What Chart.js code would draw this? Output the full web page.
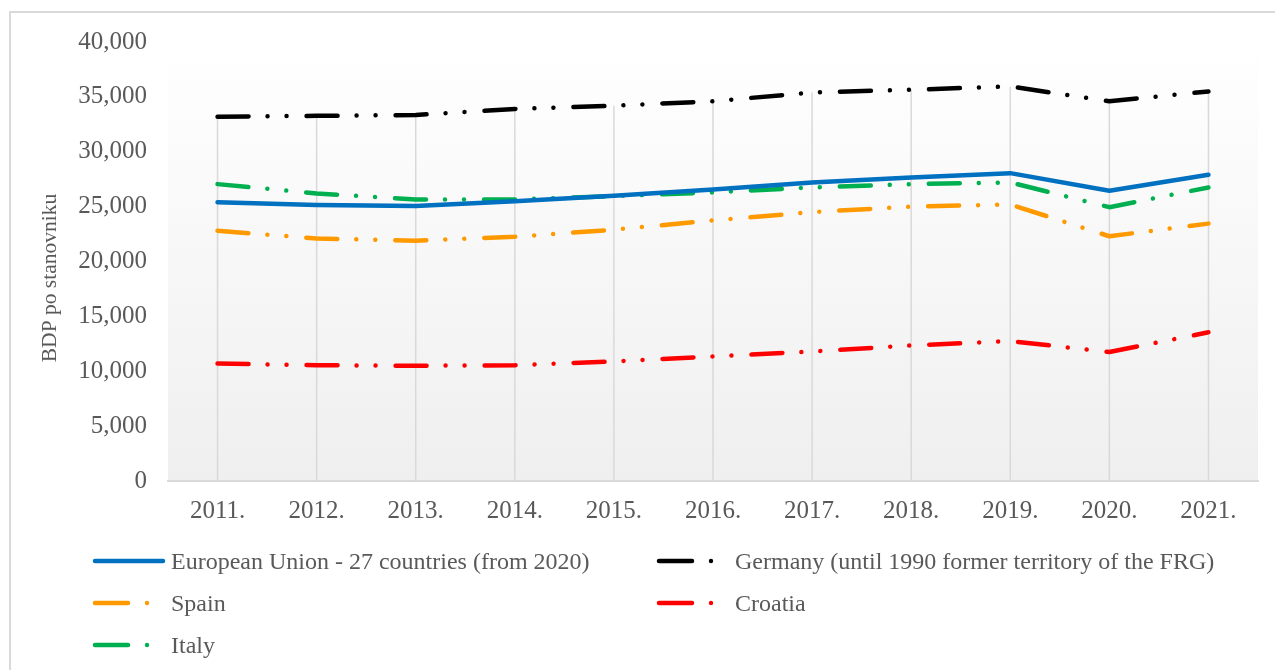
<!DOCTYPE html>
<html>
<head>
<meta charset="utf-8">
<script src="https://cdn.jsdelivr.net/npm/chart.js@4.4.1/dist/chart.umd.min.js"></script>
<style>
  html, body { margin: 0; padding: 0; background: #ffffff; }
  #wrap { width: 1275px; height: 670px; position: relative; }
</style>
</head>
<body>
<div id="wrap"><canvas id="c" width="1275" height="670"></canvas></div>
<script>
const years = ['2011.', '2012.', '2013.', '2014.', '2015.', '2016.', '2017.', '2018.', '2019.', '2020.', '2021.'];
const euValues = [25400, 25150, 25050, 25500, 26000, 26550, 27200, 27650, 28050, 26450, 27900];
const germanyValues = [33200, 33270, 33350, 33900, 34200, 34600, 35400, 35650, 35950, 34600, 35500];
const spainValues = [22800, 22100, 21900, 22250, 22900, 23750, 24500, 25000, 25200, 22300, 23450];
const croatiaValues = [10700, 10550, 10500, 10550, 10900, 11350, 11800, 12350, 12750, 11750, 13550];
const italyValues = [27050, 26200, 25650, 25650, 25950, 26300, 26750, 27050, 27200, 24950, 26750];
const seriesNames = [
  'European Union - 27 countries (from 2020)',
  'Germany (until 1990 former territory of the FRG)',
  'Spain',
  'Croatia',
  'Italy'
];
const yTickMin = 0, yTickMax = 40000, yTickStep = 5000;
const yTitle = 'BDP po stanovniku';

const FONT = "'Liberation Serif', 'Times New Roman', serif";
const TXT = '#595959';
const DASH = [31, 19, 0.01, 19, 0.01, 20];
const colors = ['#0070C0', '#000000', '#FF9900', '#FF0000', '#00B050'];
const dashes = [[], DASH, DASH, DASH, DASH];
const values = [euValues, germanyValues, spainValues, croatiaValues, italyValues];

const datasets = values.map((v, i) => ({
  label: seriesNames[i],
  data: v,
  borderColor: colors[i],
  backgroundColor: colors[i],
  borderWidth: 4.5,
  borderDash: dashes[i],
  borderCapStyle: 'round',
  borderJoinStyle: 'round',
  pointRadius: 0,
  pointHoverRadius: 0,
  tension: 0,
  fill: false
}));

const bgPlugin = {
  id: 'bg',
  beforeDraw(chart) {
    const ctx = chart.ctx, a = chart.chartArea;
    ctx.save();
    ctx.fillStyle = '#ffffff';
    ctx.fillRect(0, 0, chart.width, chart.height);
    ctx.strokeStyle = '#d9d9d9';
    ctx.lineWidth = 2;
    ctx.strokeRect(10, 12, chart.width + 10, chart.height + 10);
    const g = ctx.createLinearGradient(0, a.top, 0, a.bottom);
    g.addColorStop(0, '#ffffff');
    g.addColorStop(1, '#efefef');
    ctx.fillStyle = g;
    ctx.fillRect(a.left, a.top, a.right - a.left, a.bottom - a.top);
    // y-axis title
    ctx.fillStyle = TXT;
    ctx.font = '21.5px ' + FONT;
    ctx.textAlign = 'center';
    ctx.textBaseline = 'middle';
    ctx.translate(50, 278);
    ctx.rotate(-Math.PI / 2);
    ctx.fillText(yTitle, 0, 0);
    ctx.restore();
  },
  beforeDatasetsDraw(chart) {
    // drop lines from the highest series point down to the axis
    const ctx = chart.ctx, xs = chart.scales.x, ys = chart.scales.y;
    ctx.save();
    ctx.strokeStyle = '#d9d9d9';
    ctx.lineWidth = 1.5;
    years.forEach((lab, i) => {
      const top = Math.max(...chart.data.datasets.map(d => d.data[i]));
      const x = xs.getPixelForValue(i);
      ctx.beginPath();
      ctx.moveTo(x, ys.getPixelForValue(top));
      ctx.lineTo(x, ys.getPixelForValue(0));
      ctx.stroke();
    });
    ctx.restore();
  }
};

const legendPlugin = {
  id: 'customLegend',
  afterDraw(chart) {
    const ctx = chart.ctx;
    const colX = [93, 657];
    const rowY = [561, 603, 645];
    const pos = [[0,0],[1,0],[0,1],[1,1],[0,2]];
    ctx.save();
    chart.data.datasets.forEach((ds, i) => {
      const x = colX[pos[i][0]], y = rowY[pos[i][1]];
      ctx.strokeStyle = ds.borderColor;
      ctx.fillStyle = ds.borderColor;
      ctx.lineWidth = 4.5;
      ctx.lineCap = 'round';
      ctx.setLineDash([]);
      ctx.beginPath();
      if (ds.borderDash.length === 0) {
        ctx.moveTo(x + 2, y);
        ctx.lineTo(x + 70, y);
        ctx.stroke();
      } else {
        ctx.moveTo(x + 2, y);
        ctx.lineTo(x + 35, y);
        ctx.stroke();
        ctx.beginPath();
        ctx.arc(x + 54, y, 2.2, 0, Math.PI * 2);
        ctx.fill();
      }
      ctx.fillStyle = TXT;
      ctx.font = '24px ' + FONT;
      ctx.textBaseline = 'alphabetic';
      ctx.textAlign = 'left';
      ctx.fillText(ds.label, x + 78, y + 8);
    });
    ctx.restore();
  }
};

new Chart(document.getElementById('c'), {
  type: 'line',
  data: { labels: years, datasets: datasets },
  options: {
    responsive: false,
    animation: false,
    devicePixelRatio: 1,
    layout: { padding: { left: 0, right: 17, top: 42, bottom: 149 } },
    plugins: { legend: { display: false }, tooltip: { enabled: false } },
    scales: {
      x: {
        offset: true,
        grid: { display: false, drawTicks: false },
        border: { display: true, color: '#d9d9d9', width: 2 },
        ticks: { color: TXT, font: { family: FONT, size: 25 }, padding: 15, maxRotation: 0, autoSkip: false },
        afterFit(scale) { scale.height = 40; }
      },
      y: {
        min: yTickMin,
        max: yTickMax,
        grid: { display: false, drawTicks: false },
        border: { display: false },
        ticks: {
          stepSize: yTickStep,
          color: TXT,
          font: { family: FONT, size: 25 },
          padding: 21,
          callback: v => v.toLocaleString('en-US')
        },
        afterFit(scale) { scale.width = 168; }
      }
    }
  },
  plugins: [bgPlugin, legendPlugin]
});
</script>
</body>
</html>
